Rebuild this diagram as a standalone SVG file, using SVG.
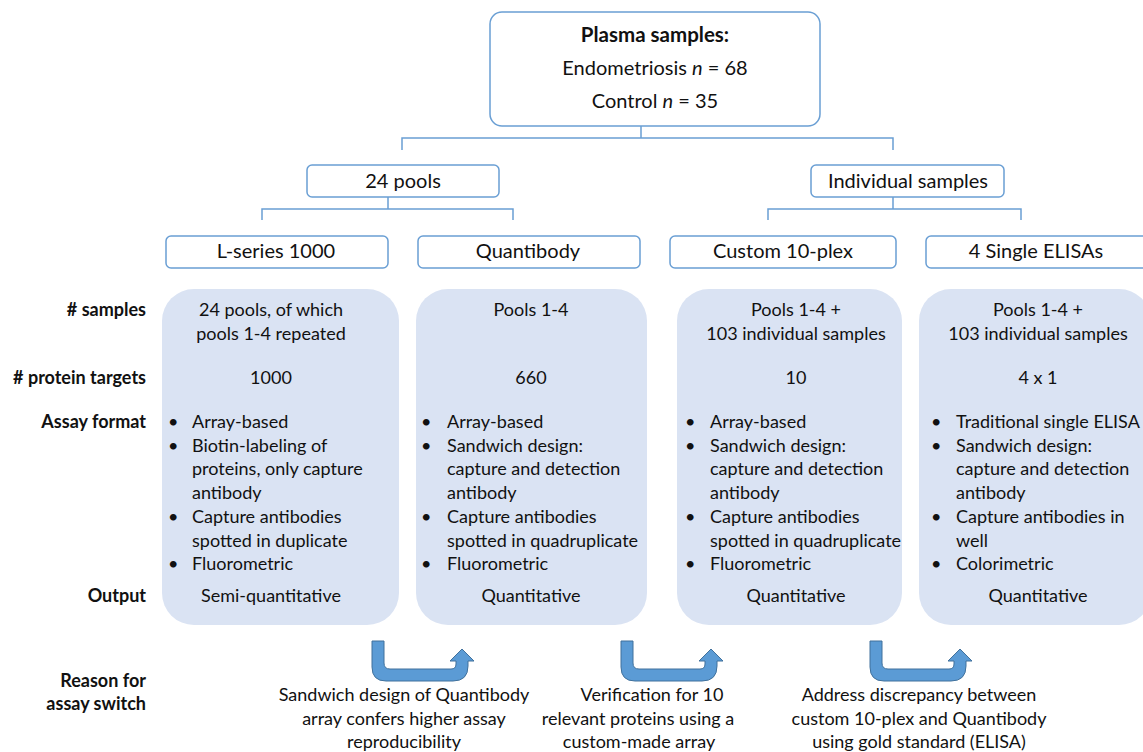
<svg xmlns="http://www.w3.org/2000/svg" width="1143" height="752" viewBox="0 0 1143 752">
<style>
text{font-family:Lato,"Open Sans","Liberation Sans",sans-serif;font-size:18px;fill:#111}
.c{text-anchor:middle}
.b{font-weight:bold}
.r{text-anchor:end}
.big{font-size:20px}
.box{fill:#fff;stroke:#6a9fd4;stroke-width:1.5}
.panel{fill:#dae3f3}
.conn{stroke:#6a9fd4;stroke-width:1.5;fill:none}
.arr{fill:#5b9bd5;stroke:#41719c;stroke-width:1}
</style>
<rect width="1143" height="752" fill="#fff"/>
<g id="connectors">
<path class="conn" d="M641,126V138M402,150V138H893V150"/>
<path class="conn" d="M388,197V209M262,220V209H513V220"/>
<path class="conn" d="M893,197V209M768,220V209H1021V220"/>
</g>
<g id="plasma">
<rect class="box" x="490" y="12" width="330" height="114" rx="12"/>
<text class="c b big" x="655" y="42" style="font-size:20.5px">Plasma samples:</text>
<text class="c big" x="655" y="75">Endometriosis <tspan font-style="italic">n</tspan> = 68</text>
<text class="c big" x="655" y="108">Control <tspan font-style="italic">n</tspan> = 35</text>
</g>
<g id="pools24">
<rect class="box" x="307" y="165" width="192" height="32" rx="5"/>
<text class="c big" x="403" y="188">24 pools</text>
</g>
<g id="individual">
<rect class="box" x="811" y="165" width="193" height="32" rx="5"/>
<text class="c big" x="908" y="188">Individual samples</text>
</g>
<g id="lseries">
<rect class="box" x="166" y="236" width="222" height="32" rx="5"/>
<text class="c big" x="276" y="258">L-series 1000</text>
</g>
<g id="quantibody">
<rect class="box" x="418" y="236" width="222" height="32" rx="5"/>
<text class="c big" x="528" y="258">Quantibody</text>
</g>
<g id="custom">
<rect class="box" x="670" y="236" width="226" height="32" rx="5"/>
<text class="c big" x="783" y="258">Custom 10-plex</text>
</g>
<g id="elisas">
<rect class="box" x="926" y="236" width="224" height="32" rx="5"/>
<text class="c big" x="1036" y="258">4 Single ELISAs</text>
</g>
<g id="labels">
<text class="r b" x="146" y="316"># samples</text>
<text class="r b" x="146" y="384"># protein targets</text>
<text class="r b" x="146" y="428">Assay format</text>
<text class="r b" x="146" y="602">Output</text>
<text class="r b" x="146" y="687">Reason for</text>
<text class="r b" x="146" y="710">assay switch</text>
</g>
<g id="panel-lseries">
<rect class="panel" x="162" y="289" width="237" height="336" rx="32"/>
<text class="c" x="271" y="316">24 pools, of which</text>
<text class="c" x="271" y="340">pools 1-4 repeated</text>
<text class="c" x="271" y="384">1000</text>
<text x="168" y="428">•</text><text x="192" y="428">Array-based</text>
<text x="168" y="452">•</text><text x="192" y="452">Biotin-labeling of</text>
<text x="192" y="475">proteins, only capture</text>
<text x="192" y="499">antibody</text>
<text x="168" y="523">•</text><text x="192" y="523">Capture antibodies</text>
<text x="192" y="547">spotted in duplicate</text>
<text x="168" y="570">•</text><text x="192" y="570">Fluorometric</text>
<text class="c" x="271" y="602">Semi-quantitative</text>
</g>
<g id="panel-quantibody">
<rect class="panel" x="416" y="289" width="231" height="336" rx="32"/>
<text class="c" x="531" y="316">Pools 1-4</text>
<text class="c" x="531" y="384">660</text>
<text x="421" y="428">•</text><text x="447" y="428">Array-based</text>
<text x="421" y="452">•</text><text x="447" y="452">Sandwich design:</text>
<text x="447" y="475">capture and detection</text>
<text x="447" y="499">antibody</text>
<text x="421" y="523">•</text><text x="447" y="523">Capture antibodies</text>
<text x="447" y="547">spotted in quadruplicate</text>
<text x="421" y="570">•</text><text x="447" y="570">Fluorometric</text>
<text class="c" x="531" y="602">Quantitative</text>
</g>
<g id="panel-custom">
<rect class="panel" x="677" y="289" width="225" height="336" rx="32"/>
<text class="c" x="796" y="316">Pools 1-4 +</text>
<text class="c" x="796" y="340">103 individual samples</text>
<text class="c" x="796" y="384">10</text>
<text x="685" y="428">•</text><text x="710" y="428">Array-based</text>
<text x="685" y="452">•</text><text x="710" y="452">Sandwich design:</text>
<text x="710" y="475">capture and detection</text>
<text x="710" y="499">antibody</text>
<text x="685" y="523">•</text><text x="710" y="523">Capture antibodies</text>
<text x="710" y="547">spotted in quadruplicate</text>
<text x="685" y="570">•</text><text x="710" y="570">Fluorometric</text>
<text class="c" x="796" y="602">Quantitative</text>
</g>
<g id="panel-elisa">
<rect class="panel" x="919" y="289" width="232" height="336" rx="32"/>
<text class="c" x="1038" y="316">Pools 1-4 +</text>
<text class="c" x="1038" y="340">103 individual samples</text>
<text class="c" x="1038" y="384">4 x 1</text>
<text x="931" y="428">•</text><text x="956" y="428">Traditional single ELISA</text>
<text x="931" y="452">•</text><text x="956" y="452">Sandwich design:</text>
<text x="956" y="475">capture and detection</text>
<text x="956" y="499">antibody</text>
<text x="931" y="523">•</text><text x="956" y="523">Capture antibodies in</text>
<text x="956" y="547">well</text>
<text x="931" y="570">•</text><text x="956" y="570">Colorimetric</text>
<text class="c" x="1038" y="602">Quantitative</text>
</g>
<defs>
<path id="uarrow" d="M0,0 L12,0 L12,22 Q12,28 18,28 L79,28 Q84,28 84,23 L84,20 L78,20 L90,8 L102,20 L96,20 L96,25 Q96,40 81,40 L14,40 Q0,40 0,26 Z"/>
</defs>
<g id="switch1">
<use href="#uarrow" class="arr" x="372" y="641"/>
<text class="c" x="404" y="701">Sandwich design of Quantibody</text>
<text class="c" x="404" y="725">array confers higher assay</text>
<text class="c" x="404" y="748">reproducibility</text>
</g>
<g id="switch2">
<use href="#uarrow" class="arr" x="621" y="641"/>
<text class="c" x="652" y="701">Verification for 10</text>
<text class="c" x="638" y="725">relevant proteins using a</text>
<text class="c" x="639" y="748">custom-made array</text>
</g>
<g id="switch3">
<use href="#uarrow" class="arr" x="870" y="641"/>
<text class="c" x="919" y="701">Address discrepancy between</text>
<text class="c" x="919" y="725">custom 10-plex and Quantibody</text>
<text class="c" x="919" y="748">using gold standard (ELISA)</text>
</g>
</svg>
